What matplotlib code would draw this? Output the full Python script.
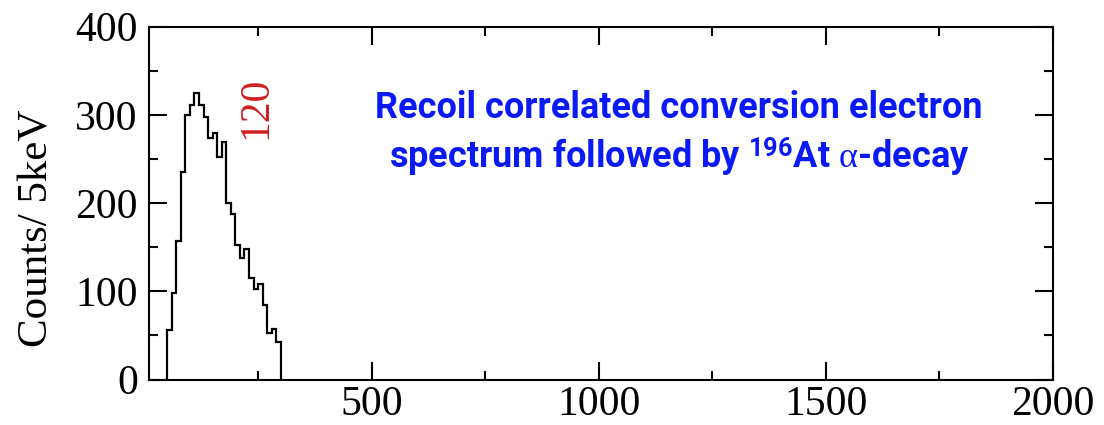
import matplotlib
matplotlib.use("Agg")
import numpy as np
import matplotlib.pyplot as plt
from matplotlib.ticker import MultipleLocator

# histogram: 10 keV bins from 50 to 300 keV
bin_edges = np.arange(50, 301, 10)
counts = [56, 98, 157, 235, 300, 311, 325, 311, 297, 274, 279, 252, 269,
          200, 188, 152, 138, 148, 115, 103, 108, 84, 53, 57, 42]

x_range = (10, 2000)
y_range = (0, 400)
y_label = "Counts/ 5keV"
peak_label = "120"
peak_pos = (245, 308)
note_lines = ["Recoil correlated conversion electron",
              r"spectrum followed by $^{196}$At $\alpha$-decay"]

plt.rcParams.update({
    "font.family": ["Liberation Serif", "DejaVu Serif"],
    "mathtext.fontset": "custom",
    "mathtext.rm": "Roboto:bold",
    "mathtext.bf": "Roboto:bold",
    "mathtext.it": "Liberation Serif",
})

fig = plt.figure(figsize=(11.04, 4.25), dpi=100)
ax = fig.add_axes([0.135, 0.107, 0.8188, 0.8306])

ax.stairs(counts, bin_edges, color="black", linewidth=1.6, baseline=0)

ax.set_xlim(*x_range)
ax.set_ylim(*y_range)
ax.xaxis.set_major_locator(MultipleLocator(500))
ax.xaxis.set_minor_locator(MultipleLocator(250))
ax.yaxis.set_major_locator(MultipleLocator(100))
ax.yaxis.set_minor_locator(MultipleLocator(50))
ax.tick_params(which="both", direction="in", top=True, right=True, width=1.5)
ax.tick_params(which="major", length=13)
ax.tick_params(which="minor", length=6.5)
ax.tick_params(axis="both", labelsize=30)
ax.tick_params(axis="y", pad=8)
ax.tick_params(axis="x", pad=4)
for sp in ax.spines.values():
    sp.set_linewidth(1.5)

fig.text(37 / 1104, 1 - 228 / 425, y_label, rotation=90, fontsize=31,
         ha="center", va="center")

ax.text(*peak_pos, peak_label, rotation=90, fontsize=30, color="#d01f1f",
        ha="center", va="center")

for i, line in enumerate(note_lines):
    ax.text(0.586, 0.769 - i * 0.139, line, transform=ax.transAxes,
            fontsize=26, fontweight="bold", family="Roboto", color="#0a1af5",
            ha="center", va="center")

fig.savefig("out.png", dpi=100)
